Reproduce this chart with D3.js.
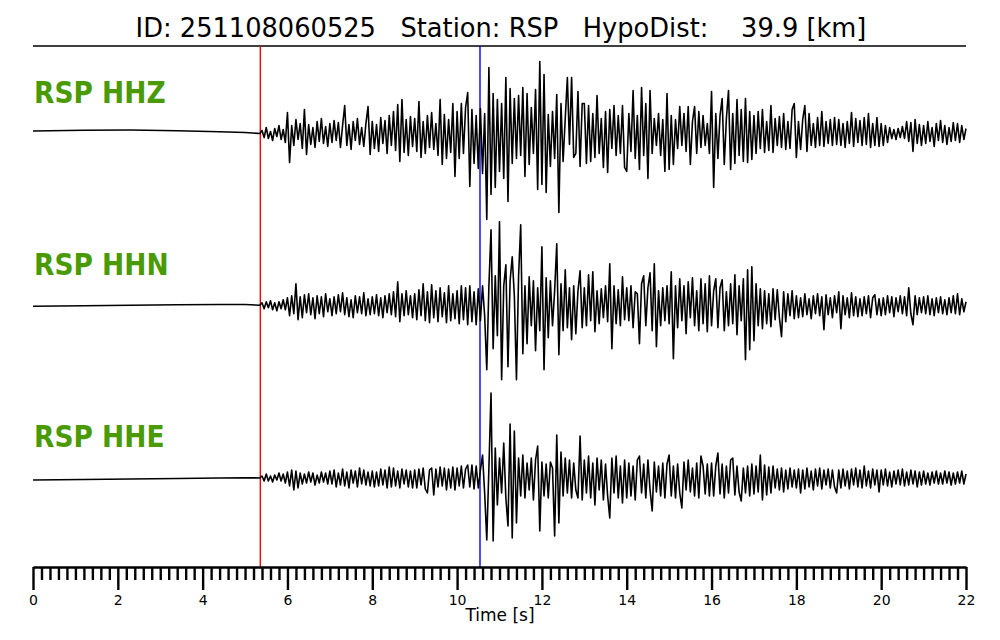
<!DOCTYPE html>
<html>
<head>
<meta charset="utf-8">
<script src="https://cdn.jsdelivr.net/npm/d3@7"></script>
<style>
  html, body { margin: 0; padding: 0; background: #fff; }
  svg { display: block; }
  text { font-family: "DejaVu Sans", sans-serif; }
</style>
</head>
<body>
<div id="chart"></div>
<script>
// ---------------- DATA ----------------
const titleText = "ID: 251108060525   Station: RSP   HypoDist:    39.9 [km]";
const channels = ["RSP HHZ", "RSP HHN", "RSP HHE"];
const xLabel = "Time [s]";
const majorTicks = [0, 2, 4, 6, 8, 10, 12, 14, 16, 18, 20, 22];
const tickLabels = ["0", "2", "4", "6", "8", "10", "12", "14", "16", "18", "20", "22"];
const minorStep = 0.2;
const pickP = 5.36;   // red pick [s]
const pickS = 10.54;  // blue pick [s]

// pre-event (quiet) part, sparse
const preTimes = [0, 1.2, 2.3, 3.4, 4.4, 5.0, 5.35];
const preHHZ = [2.5, 3.2, 3.5, 2.8, 1.8, 1.0, 0];
const preHHN = [-0.5, 0, 0.5, 1.0, 1.3, 1.2, 0.5];
const preHHE = [-2, -1.5, -1, -0.5, 0, 0.3, 0];

// signal part, sampled every dt seconds from t0 (amplitude, arbitrary units)
const t0 = 5.35;
const dt = 0.05;
const hhz = [
  0, 3, -4, 6, -5, 2, -7, 5, -3, 8, -6, 4, -9,
  21, -29, 8, -12, 14, -6, 10, -15, 24, -21, 9, -11, 6, -14, 12, -8, 15, -10, 7, -13,
  10, -9, 13, -7, 11, -14, 8, 28, -12, 9, -16, 12, -7, 15, -11, 6, -13, 10, 27, -21,
  12, -15, 9, -18, 16, -10, 13, -20, 18, -12, 22, -17, 29, -28, 34, -19, 14, -22, 17, -13,
  15, -18, 32, -24, 12, -20, 18, -14, 21, -16, 10, -22, 34, -31, 19, -25, 14, -19, 30, -43,
  22, -25, 30, -20, 26, 41, -53, 24, -30, 18, -35, 25, -40, 20, -86, 66, -61, 40, -54, 34,
  -38, 30, -45, 56, -68, 45, -30, 35, -25, 38, -22, 46, -43, 40, -31, 26, -20, 44, -56, 72,
  -51, 59, -59, 19, -33, 22, -25, 39, -79, 30, -28, 15, 56, -11, 56, -24, -20, 42, -33, 30,
  30, -30, 28, -28, 20, -24, 38, -20, 15, -34, 22, -39, 24, -15, 28, -22, 18, -20, 28, -34,
  -38, 20, -18, 43, -25, 18, -36, 46, -22, 30, -45, 43, -20, 15, -12, 20, -22, 14, -38, 40,
  -36, 18, -31, 14, -15, 27, -12, 20, -18, 27, -31, 12, 27, -20, 22, -14, 18, -12, 10, -20,
  42, -54, 20, -25, 18, 35, -31, 15, 43, -36, 20, -30, 34, -22, 24, -28, 35, -29, 22, -26,
  18, -20, 22, -15, 24, -19, 12, -17, 28, -19, 15, -12, 17, -14, 20, -16, 12, -15, 24, 30,
  -24, 12, -16, 14, 28, -18, 20, -12, 10, -14, 16, -12, 22, -13, 12, -10, 14, -12, 16, -11,
  14, -12, 10, -14, 12, -10, 21, -13, 15, -9, 13, -12, 16, -11, 20, -14, 10, -12, 16, -13,
  10, -12, 8, -9, 6, -5, 4, -6, 5, -4, 7, -5, 12, -8, 11, -18, 14, -10, 9, -12,
  8, -10, 12, -8, 6, -13, 10, -7, 13, -9, 8, -11, 6, -8, 11, -7, 10, -9, 8, -6, 5
];
const hhn = [
  0.5, 3, -3, 4, -2, 5, -4, 3, -5, 4, -3, 6, -4,
  8, -10, 10, -8, 22, -14, 9, -12, 11, -7, 12, -9, 8, -13, 10, -8, 9, -11, 12, -6,
  7, -10, 9, -8, 11, -6, 13, -9, 8, -11, 6, -12, 10, -7, 9, -8, 13, -10, 7, -9,
  9, -8, 11, -10, 8, -12, 10, -7, 12, -9, 14, -11, 24, -16, 12, -10, 15, -9, 10, -12,
  12, -14, 16, -10, 22, -15, 14, -17, 21, -12, 15, -16, 18, -11, 13, -17, 20, -15, 12, -13,
  15, -18, 20, -14, 18, -19, 20, -16, 14, -19, 17, -15, 20, -10, -64, 20, 76, -43, 30, -30,
  84, -74, 20, 41, -61, 25, 49, 10, -74, 30, 81, -48, 20, -38, 29, -20, 25, -45, 18, -25,
  59, -64, 28, -32, 25, -20, 15, 62, -49, 22, -25, 36, -22, 18, -34, 20, -28, 15, 35, -22,
  18, -20, 31, -15, 34, -26, 15, -18, 17, -12, 20, -16, 42, -43, 20, -18, 16, -20, 29, -14,
  18, -15, 20, -22, 14, 12, -38, 22, 30, -20, 18, 33, -25, 42, -41, 15, -20, 18, -15, 20,
  -18, 34, -53, 20, -22, 27, -15, 20, -28, 24, -12, 28, -20, 15, -25, 27, -18, 22, -26, 30,
  -20, 15, 27, -22, 18, 26, -25, 14, -20, 22, -18, 31, -29, 20, -15, 27, -54, 36, -44, 39,
  -35, 22, -20, 17, -23, 15, -18, 12, -21, 17, -14, 16, -12, -31, 14, -16, 12, -10, 15, -13,
  10, -12, 8, -11, 12, -9, 7, -13, 10, -8, 12, -10, 9, -24, 11, -9, 8, -12, 10, -7,
  14, -23, 10, -9, 8, -12, 13, -10, 9, -11, 7, -10, 9, -8, 10, -12, 8, 11, -9, 7,
  -10, 8, -9, 10, -7, 9, -11, 8, -6, 10, -8, 9, -10, 18, -8, -19, 10, -9, 8, -7,
  9, -8, 10, -9, 7, -10, 8, -7, 9, -8, 6, -9, 8, -7, 10, -8, 12, -9, 7, -6, 4
];
const hhe = [
  0, 2, -3, 4, -3, 2, -4, 3, -2, 5, -3, 4, -5,
  6, -8, 8, -12, 7, -10, 5, -6, 4, -5, 6, -4, 5, -7, 3, -5, 6, -4, 5, -6,
  7, -6, 8, -9, 5, -7, 9, -8, 6, -10, 8, -5, 7, -9, 10, -6, 8, -7, 6, -8,
  7, -9, 6, -8, 9, -7, 8, -10, 11, -9, 10, -8, 7, -10, 9, -6, 8, -9, 7, -10,
  8, -10, 9, -7, 10, -11, -15, 8, 10, -17, 9, -9, 11, -8, 10, -12, 9, -10, 11, -12,
  10, -8, 12, -10, 9, 13, -9, 13, -11, 12, -10, 8, 23, -15, -62, 10, 85, -63, 30, -27,
  20, -15, 35, -20, -48, 54, -60, 47, -45, 20, -18, 23, -20, 15, -12, 20, -22, 18, 32, -53,
  16, -18, 14, -20, 16, 10, -58, 43, -45, 26, -18, 20, -15, 18, -20, 15, -12, -20, 42, -22,
  18, -15, 22, -20, 15, -27, 20, -12, 18, -22, 14, -18, -40, 20, -15, 22, -20, 12, -25, 18,
  -20, 15, -18, 12, -22, 18, 22, -15, 14, -20, 18, -12, -33, 16, -14, 12, -18, 15, -20, 14,
  23, -18, 12, -20, 14, -15, -30, 16, -12, 18, -14, 10, -18, 15, -20, 22, 12, -16, 14, -18,
  15, -18, 12, 25, -16, 14, -20, 12, -15, 18, 20, -17, 12, -14, -23, 10, -15, 12, -18, 14,
  -16, 12, -14, 23, -22, 13, -17, 11, -15, 12, -10, 9, -12, 10, -14, 8, -11, 10, -9, 8,
  -10, 9, -15, 8, -11, 10, -9, 7, -12, 9, -8, 10, -11, 8, -7, 9, -10, 8, -9, -15,
  8, -10, 9, -8, 7, -11, 9, -7, 10, -9, 8, -10, 12, -8, 7, -10, 9, -7, 8, -14,
  8, -7, 9, -8, 6, -9, 7, -6, 8, -7, 9, -8, 6, -7, 8, -6, 7, -9, 6, -7,
  7, -6, 5, -7, 6, -5, 7, -6, 5, -6, 7, -5, 6, -7, 5, -6, 6, -5, 7, -6, 4
];
const traces = [
  { name: channels[0], pre: preHHZ, sig: hhz },
  { name: channels[1], pre: preHHN, sig: hhn },
  { name: channels[2], pre: preHHE, sig: hhe }
];

// ---------------- CHART ----------------
const W = 1000, H = 640;
const svg = d3.select("#chart").append("svg").attr("width", W).attr("height", H);

const x = d3.scaleLinear().domain([0, 22]).range([33, 966]);
const chanY = d3.scalePoint().domain(channels).range([133.5, 478]);
const amp = d3.scaleLinear().domain([-100, 100]).range([100, -100]);
const topY = 46, axisY = 567;

// title
svg.append("text")
  .attr("transform", "translate(501,37) scale(1,1.05)")
  .attr("text-anchor", "middle")
  .style("white-space", "pre")
  .attr("xml:space", "preserve")
  .attr("font-size", 25.7)
  .attr("fill", "#000")
  .text(titleText);

// top rule
svg.append("line")
  .attr("x1", x(0)).attr("x2", x(22)).attr("y1", topY).attr("y2", topY)
  .attr("stroke", "#000").attr("stroke-width", 1.3);

// picks
svg.append("line").attr("x1", x(pickP)).attr("x2", x(pickP))
  .attr("y1", topY).attr("y2", axisY).attr("stroke", "#ff0000").attr("stroke-width", 1.4);
svg.append("line").attr("x1", x(pickS)).attr("x2", x(pickS))
  .attr("y1", topY).attr("y2", axisY).attr("stroke", "#0000ff").attr("stroke-width", 1.4);

// traces
traces.forEach(tr => {
  const base = chanY(tr.name);
  const pts = tr.pre.map((v, i) => ({ t: preTimes[i], v }))
    .concat(tr.sig.map((v, i) => ({ t: t0 + i * dt, v })));
  const line = d3.line().x(d => x(d.t)).y(d => base + amp(d.v));
  svg.append("path").datum(pts)
    .attr("d", line)
    .attr("fill", "none")
    .attr("stroke", "#000")
    .attr("stroke-width", 1.6)
    .attr("stroke-linejoin", "round");
  svg.append("text")
    .attr("transform", `translate(34,${base - 31}) scale(1,1.12)`)
    .attr("font-size", 26.5).attr("font-weight", "bold")
    .attr("fill", "#4a9a04")
    .text(tr.name);
});

// axis: minor ticks
const minorTicks = d3.range(0, 22 + 1e-9, minorStep).filter(v => Math.abs(v / 2 - Math.round(v / 2)) > 1e-6);
const gMinor = svg.append("g").attr("transform", `translate(0,${axisY})`)
  .call(d3.axisBottom(x).tickValues(minorTicks).tickSize(13).tickSizeOuter(0).tickFormat(""));
gMinor.select(".domain").remove();
gMinor.selectAll(".tick line").attr("stroke", "#000").attr("stroke-width", 2.4);

const gMajor = svg.append("g").attr("transform", `translate(0,${axisY})`)
  .call(d3.axisBottom(x).tickValues(majorTicks).tickSize(23).tickSizeOuter(0).tickPadding(5)
    .tickFormat((d, i) => tickLabels[i]));
gMajor.select(".domain").attr("stroke", "#000").attr("stroke-width", 2.4);
gMajor.selectAll(".tick line").attr("stroke", "#000").attr("stroke-width", 2.4);
gMajor.selectAll(".tick text").attr("font-size", 14).attr("fill", "#000")
  .attr("font-family", "DejaVu Sans, sans-serif");

svg.append("text")
  .attr("x", 500).attr("y", 621)
  .attr("text-anchor", "middle")
  .attr("font-size", 17)
  .attr("fill", "#000")
  .text(xLabel);
</script>
</body>
</html>
